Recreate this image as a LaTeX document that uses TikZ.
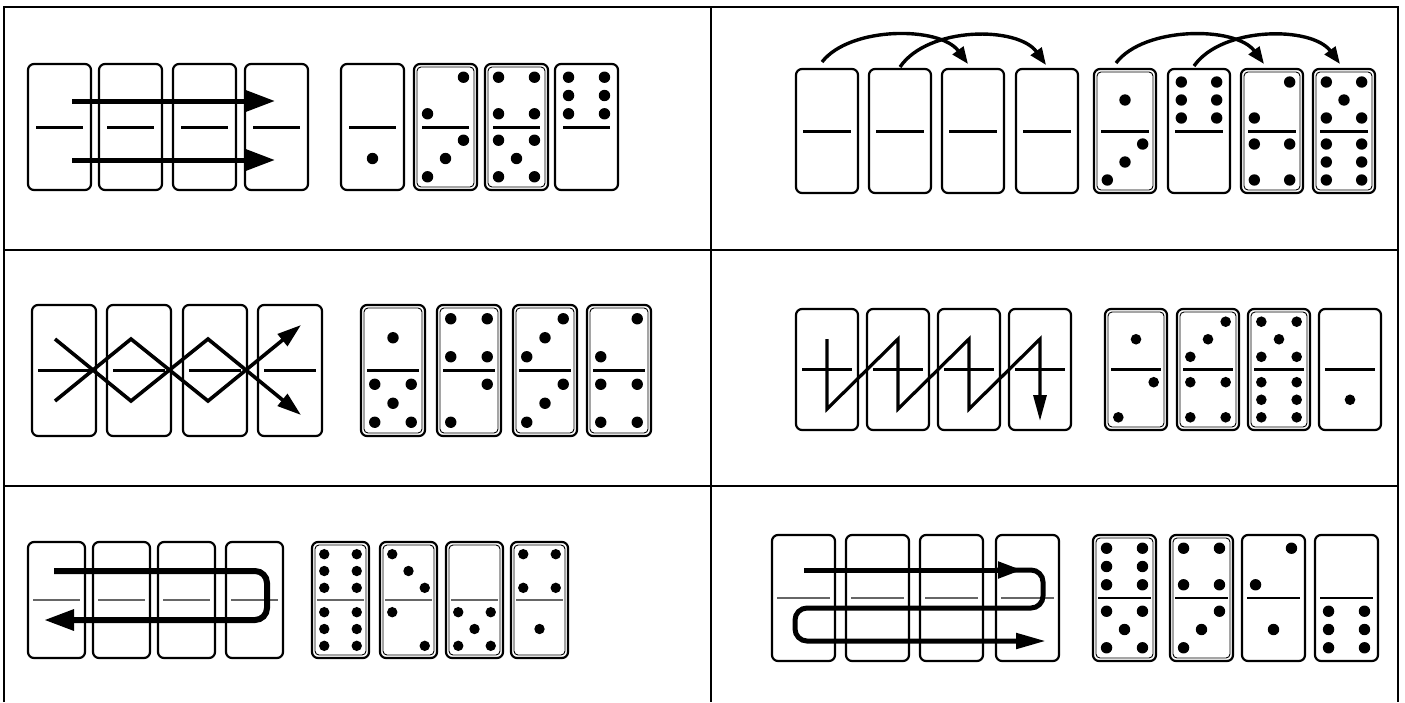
\documentclass[tikz,border=0pt]{standalone}
\usetikzlibrary{arrows.meta}
\tikzset{
  domino/.style={draw=black, line width=2.2pt, rounded corners=6pt, inner sep=0pt, outer sep=0pt, fill=white},
  innerline/.style={draw=black, line width=0.9pt, rounded corners=4pt},
  curdiv/.style={line width=2.8pt},
  frameline/.style={line width=2.5pt},
  straightarrow/.style={line width=5pt, -{Triangle[length=30pt,width=21pt]}},
  arcarrow/.style={line width=3.4pt, -{Triangle[length=17pt,width=13pt]}},
  zigarrow/.style={line width=3.6pt, line join=miter, -{Triangle[length=24pt,width=15pt]}},
  sawarrow/.style={line width=3.2pt, line join=miter, -{Triangle[length=26pt,width=13pt]}},
  uarrow/.style={line width=6pt, rounded corners=12pt, -{Triangle[length=30pt,width=20pt]}},
  sline/.style={line width=5pt, rounded corners=12pt},
}
\newcommand\PipAt[4]{\fill ({#1+(#3)*\PipDX},{#2+(#4)*\PipDY}) circle[radius=\PipR pt];}
\newcommand\PipSet[3]{%
  \ifcase#3\relax
  \or \PipAt{#1}{#2}{0}{0}%
  \or \PipAt{#1}{#2}{1}{-1}\PipAt{#1}{#2}{-1}{1}%
  \or \PipAt{#1}{#2}{1}{-1}\PipAt{#1}{#2}{0}{0}\PipAt{#1}{#2}{-1}{1}%
  \or \PipAt{#1}{#2}{-1}{-1}\PipAt{#1}{#2}{1}{-1}\PipAt{#1}{#2}{-1}{1}\PipAt{#1}{#2}{1}{1}%
  \or \PipAt{#1}{#2}{-1}{-1}\PipAt{#1}{#2}{1}{-1}\PipAt{#1}{#2}{0}{0}\PipAt{#1}{#2}{-1}{1}\PipAt{#1}{#2}{1}{1}%
  \or \PipAt{#1}{#2}{-1}{-1}\PipAt{#1}{#2}{1}{-1}\PipAt{#1}{#2}{-1}{0}\PipAt{#1}{#2}{1}{0}\PipAt{#1}{#2}{-1}{1}\PipAt{#1}{#2}{1}{1}%
  \or \PipAt{#1}{#2}{-1}{-1}\PipAt{#1}{#2}{1}{1}%
  \or \PipAt{#1}{#2}{-1}{-1}\PipAt{#1}{#2}{0}{0}\PipAt{#1}{#2}{1}{1}%
  \fi}
\newcommand\SetDom[4]{\def\DomW{#1}\def\DomH{#2}\def\DomTop{#3}\def\PipR{#4}%
  \pgfmathsetmacro\PipDX{0.285*\DomW}\pgfmathsetmacro\PipDY{0.145*\DomH}}
\newcommand\Domino[5]{%
  \node[domino, minimum width=\DomW pt, minimum height=\DomH pt] (#1) at ({#2+\DomW/2},{\DomTop+\DomH/2}) {};
  \ifnum#5=1 \draw[innerline] ([shift={(3pt,3pt)}]#1.south west) rectangle ([shift={(-3pt,-3pt)}]#1.north east);\fi
  \draw[curdiv] ([xshift=\DivIn pt]#1.west) -- ([xshift=-\DivIn pt]#1.east);
  \pgfmathsetmacro\PCX{#2+\DomW/2}%
  \pgfmathsetmacro\PTY{\DomTop+\DomH/4}%
  \pgfmathsetmacro\PBY{\DomTop+3*\DomH/4}%
  \PipSet{\PCX}{\PTY}{#3}%
  \PipSet{\PCX}{\PBY}{#4}%
}
\begin{document}
\begin{tikzpicture}[x=1pt,y=-1pt]
\useasboundingbox (0,0) rectangle (1405,702);
\fill[white] (0,0) rectangle (1405,702);
% frame
\coordinate (fTL) at (4,7); \coordinate (fTR) at (1398,7);
\coordinate (fBL) at (4,702); \coordinate (fBR) at (1398,702);
\coordinate (fTM) at (711,7); \coordinate (fBM) at (711,702);
\coordinate (r1L) at (4,250); \coordinate (r1R) at (1398,250);
\coordinate (r2L) at (4,486); \coordinate (r2R) at (1398,486);
\draw[frameline] (fBL) -- (fTL) -- (fTR) -- (fBR);
\draw[frameline] (fTM) -- (fBM);
\draw[frameline] (r1L) -- (r1R);
\draw[frameline] (r2L) -- (r2R);

% ---------- top left
\SetDom{63}{126}{64}{5.7}\def\DivIn{8}
\tikzset{curdiv/.style={line width=3pt}}
\Domino{tl1}{28}{0}{0}{0}
\Domino{tl2}{99}{0}{0}{0}
\Domino{tl3}{173}{0}{0}{0}
\Domino{tl4}{245}{0}{0}{0}
\Domino{tl5}{341}{0}{1}{0}
\Domino{tl6}{414}{2}{3}{1}
\Domino{tl7}{485}{4}{5}{1}
\Domino{tl8}{555}{6}{0}{0}
\coordinate (tla1) at (72,101); \coordinate (tlb1) at (275,101);
\coordinate (tla2) at (72,160); \coordinate (tlb2) at (275,160);
\draw[straightarrow] (tla1) -- (tlb1);
\draw[straightarrow] (tla2) -- (tlb2);

% ---------- top right
\SetDom{62}{124}{69}{5.7}\def\DivIn{7}
\tikzset{curdiv/.style={line width=3pt}}
\Domino{tr1}{796}{0}{0}{0}
\Domino{tr2}{869}{0}{0}{0}
\Domino{tr3}{942}{0}{0}{0}
\Domino{tr4}{1016}{0}{0}{0}
\Domino{tr5}{1094}{1}{3}{1}
\Domino{tr6}{1168}{6}{0}{0}
\Domino{tr7}{1241}{2}{4}{1}
\Domino{tr8}{1313}{5}{6}{1}
\coordinate (tra1) at (822,62); \coordinate (trb1) at (968,64);
\coordinate (tra2) at (900,67); \coordinate (trb2) at (1046,65);
\coordinate (tra3) at (1116,63); \coordinate (trb3) at (1264,64);
\coordinate (tra4) at (1194,66); \coordinate (trb4) at (1340,64);
\draw[arcarrow] (tra1) .. controls (850,26) and (940,26) .. (trb1);
\draw[arcarrow] (tra2) .. controls (928,26) and (1018,26) .. (trb2);
\draw[arcarrow] (tra3) .. controls (1144,26) and (1236,26) .. (trb3);
\draw[arcarrow] (tra4) .. controls (1222,26) and (1312,26) .. (trb4);

% ---------- middle left
\SetDom{64}{131}{305}{5.7}\def\DivIn{6}
\tikzset{curdiv/.style={line width=2.8pt}}
\Domino{ml1}{32}{0}{0}{0}
\Domino{ml2}{107}{0}{0}{0}
\Domino{ml3}{183}{0}{0}{0}
\Domino{ml4}{258}{0}{0}{0}
\Domino{ml5}{361}{1}{5}{1}
\Domino{ml6}{437}{4}{2}{1}
\Domino{ml7}{513}{3}{3}{1}
\Domino{ml8}{587}{2}{4}{1}
\coordinate (mla) at (55,339); \coordinate (mlb) at (131,401);
\coordinate (mlc) at (208,339); \coordinate (mld) at (301,415);
\coordinate (mle) at (55,401); \coordinate (mlf) at (131,339);
\coordinate (mlg) at (208,401); \coordinate (mlh) at (301,325);
\draw[zigarrow] (mla) -- (mlb) -- (mlc) -- (mld);
\draw[zigarrow] (mle) -- (mlf) -- (mlg) -- (mlh);

% ---------- middle right
\SetDom{62}{121}{309}{5.3}\def\DivIn{6}
\tikzset{curdiv/.style={line width=2.8pt}}
\Domino{mr1}{796}{0}{0}{0}
\Domino{mr2}{867}{0}{0}{0}
\Domino{mr3}{938}{0}{0}{0}
\Domino{mr4}{1009}{0}{0}{0}
\Domino{mr5}{1105}{1}{2}{1}
\Domino{mr6}{1177}{3}{4}{1}
\Domino{mr7}{1248}{5}{6}{1}
\Domino{mr8}{1319}{0}{1}{0}
\coordinate (mrs) at (827,339);
\coordinate (mre) at (1040,421);
\draw[sawarrow] (mrs) -- (827,409) -- (898,339) -- (898,409) -- (969,339) -- (969,409) -- (1040,339) -- (mre);

% ---------- bottom left
\SetDom{57}{116}{542}{5.2}\def\DivIn{5}
\tikzset{curdiv/.style={line width=2.2pt, draw=black!60}}
\Domino{bl1}{28}{0}{0}{0}
\Domino{bl2}{93}{0}{0}{0}
\Domino{bl3}{158}{0}{0}{0}
\Domino{bl4}{226}{0}{0}{0}
\Domino{bl5}{312}{6}{6}{1}
\Domino{bl6}{380}{8}{7}{1}
\Domino{bl7}{446}{0}{5}{1}
\Domino{bl8}{511}{4}{1}{1}
\coordinate (bls) at (54,571);
\coordinate (ble) at (44,620);
\draw[uarrow] (bls) -- (267,571) -- (267,620) -- (ble);

% ---------- bottom right
\SetDom{63}{126}{535}{5.7}\def\DivIn{5}
\tikzset{curdiv/.style={line width=2.2pt, draw=black!60}}
\Domino{br1}{772}{0}{0}{0}
\Domino{br2}{846}{0}{0}{0}
\Domino{br3}{920}{0}{0}{0}
\Domino{br4}{996}{0}{0}{0}
\tikzset{curdiv/.style={line width=2.4pt}}
\Domino{br5}{1093}{6}{5}{1}
\Domino{br6}{1170}{4}{3}{1}
\Domino{br7}{1242}{2}{1}{0}
\Domino{br8}{1315}{0}{6}{0}
\coordinate (brs) at (804,570);
\coordinate (brm) at (1022,570);
\coordinate (brc) at (995,570);
\coordinate (bre) at (1046,641);
\draw[sline, -{Triangle[length=30pt,width=15pt]}] (brc) -- (1043,570) -- (1043,608) -- (795,608) -- (795,641) -- (bre);
\draw[line width=5pt, -{Triangle[length=24pt,width=16pt]}] (brs) -- (brm);
\end{tikzpicture}
\end{document}
